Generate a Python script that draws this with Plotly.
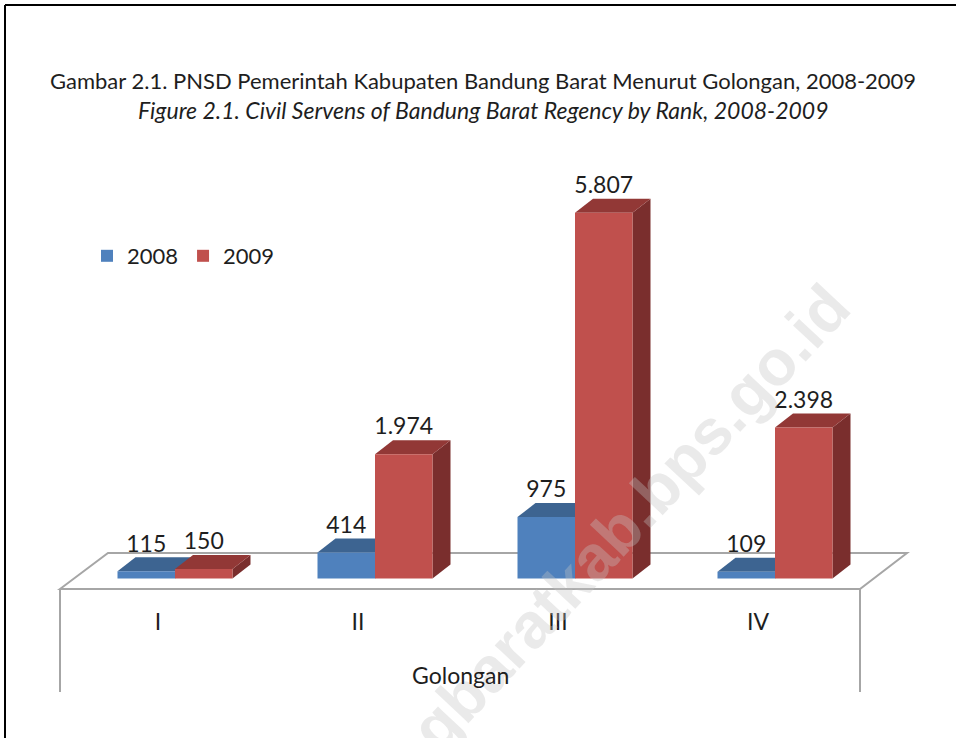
import plotly.graph_objects as go

# ---------------- data ----------------
categories = ["I", "II", "III", "IV"]
series_names = ["2008", "2009"]
values_2008 = [115, 414, 975, 109]
values_2009 = [150, 1974, 5807, 2398]

title_line1 = "Gambar 2.1. PNSD Pemerintah Kabupaten Bandung Barat Menurut Golongan, 2008-2009"
title_line2 = "Figure 2.1. Civil Servens of Bandung Barat Regency by Rank, 2008-2009"
x_title = "Golongan"
watermark = "bandungbaratkab.bps.go.id"

# ---------------- style ----------------
FONT = "Lato, 'Open Sans', sans-serif"
TXT = "#1e1e1e"
front_cols = ["#4F81BD", "#C0504D"]
top_cols = ["#3D6491", "#923836"]
side_cols = ["#30517A", "#7A2E2D"]

W, H = 956, 738
ML, MR, MT, MB = 50, 40, 150, 138
PW, PH = W - ML - MR, H - MT - MB

BAR_W = 0.2875
offsets = [-0.2025, 0.085]
DX = 0.09          # depth in x units
DY = 222           # depth in y units
X_RANGE = [-0.54, -0.54 + PW / 200.0]
Y_RANGE = [-341.3, -341.3 + PH / 0.063]

idx = list(range(len(categories)))
series = [values_2008, values_2009]

def fmt(v):
    return f"{v:,}".replace(",", ".")

fig = go.Figure()
shapes = []

# floor (parallelogram)
floor = [(-0.49, -166.7), (-0.25, 405), (3.745, 405), (3.51, -166.7)]
shapes.append(dict(type="path", xref="x", yref="y", layer="below",
                   path="M " + " L ".join(f"{x},{y}" for x, y in floor) + " Z",
                   line=dict(color="#A6A6A6", width=2), fillcolor="white"))

for s, vals in enumerate(series):
    fig.add_trace(go.Bar(
        x=idx, y=vals, width=BAR_W, offset=offsets[s], name=series_names[s],
        marker=dict(color=front_cols[s], line=dict(width=0)),
        hoverinfo="skip"))
    for i, v in zip(idx, vals):
        xl = i + offsets[s]
        xr = xl + BAR_W
        top = [(xl, v), (xr, v), (xr + DX, v + DY), (xl + DX, v + DY)]
        side = [(xr, 0), (xr, v), (xr + DX, v + DY), (xr + DX, DY)]
        for poly, col in ((side, side_cols[s]), (top, top_cols[s])):
            shapes.append(dict(type="path", xref="x", yref="y", layer="below",
                               path="M " + " L ".join(f"{x},{y}" for x, y in poly) + " Z",
                               line=dict(width=0), fillcolor=col))

# data labels
for s, vals in enumerate(series):
    fig.add_trace(go.Scatter(
        x=[i + offsets[s] + BAR_W / 2 for i in idx],
        y=[v + DY for v in vals],
        mode="text", text=[fmt(v) for v in vals], textposition="top center",
        textfont=dict(family=FONT, size=23, color=TXT),
        showlegend=False, hoverinfo="skip", cliponaxis=False))

def px2paper(px, py):
    return (px - ML) / PW, (H - MB - py) / PH

# vertical floor legs
for lx in (60, 860):
    x0, y0 = px2paper(lx, 589)
    _, y1 = px2paper(lx, 692)
    shapes.append(dict(type="line", xref="paper", yref="paper",
                       x0=x0, x1=x0, y0=y0, y1=y1,
                       line=dict(color="#A6A6A6", width=2)))

# outer frame (top and left)
fx0, fy0 = px2paper(5, 5)
fx1, fy1 = px2paper(956, 738)
shapes.append(dict(type="line", xref="paper", yref="paper", x0=fx0, x1=fx1, y0=fy0, y1=fy0,
                   line=dict(color="black", width=2)))
shapes.append(dict(type="line", xref="paper", yref="paper", x0=fx0, x1=fx0, y0=fy0, y1=fy1,
                   line=dict(color="black", width=2)))

# watermark
ax, ay = px2paper(478.8, 671.1)
bx, by = px2paper(615.2, 524.9)
shapes.append(dict(type="line", xref="paper", yref="paper", x0=ax, y0=ay, x1=bx, y1=by,
                   layer="above", line=dict(color="rgba(0,0,0,0)", width=0),
                   label=dict(text=watermark, textangle=-47, textposition="middle",
                              xanchor="center", yanchor="middle",
                              font=dict(family="'Liberation Sans', Arial, sans-serif",
                                        size=64, color="rgba(195,195,195,0.35)",
                                        weight="bold"))))

tx, ty1 = px2paper(483, 80)
_, ty2 = px2paper(485, 110)
gx, gy = px2paper(460, 675)
annotations = [
    dict(text=title_line1, x=tx, y=ty1, xref="paper", yref="paper", showarrow=False,
         xanchor="center", yanchor="middle", font=dict(family=FONT, size=22, color=TXT)),
    dict(text="<i>" + title_line2 + "</i>", x=tx, y=ty2, xref="paper", yref="paper",
         showarrow=False, xanchor="center", yanchor="middle",
         font=dict(family=FONT, size=23, color=TXT)),
    dict(text=x_title, x=gx, y=gy, xref="paper", yref="paper", showarrow=False,
         xanchor="center", yanchor="middle", font=dict(family=FONT, size=23, color=TXT)),
]

lx, ly = px2paper(87, 256)
fig.update_layout(
    width=W, height=H,
    margin=dict(l=ML, r=MR, t=MT, b=MB, autoexpand=False),
    paper_bgcolor="white", plot_bgcolor="rgba(0,0,0,0)",
    barmode="overlay",
    shapes=shapes, annotations=annotations,
    showlegend=True,
    legend=dict(orientation="h", x=lx, y=ly, xanchor="left", yanchor="middle",
                font=dict(family=FONT, size=22, color=TXT), bgcolor="rgba(0,0,0,0)",
                itemclick=False),
    xaxis=dict(range=X_RANGE, tickmode="array", tickvals=idx, ticktext=categories,
               showgrid=False, zeroline=False, showline=False,
               ticks="outside", ticklen=1, tickcolor="rgba(0,0,0,0)",
               tickfont=dict(family=FONT, size=23, color=TXT),
               fixedrange=True, automargin=False),
    yaxis=dict(range=Y_RANGE, visible=False, fixedrange=True),
)

fig.write_html("out.html", config={"displayModeBar": False},
               post_script="document.body.style.margin='0px';")
